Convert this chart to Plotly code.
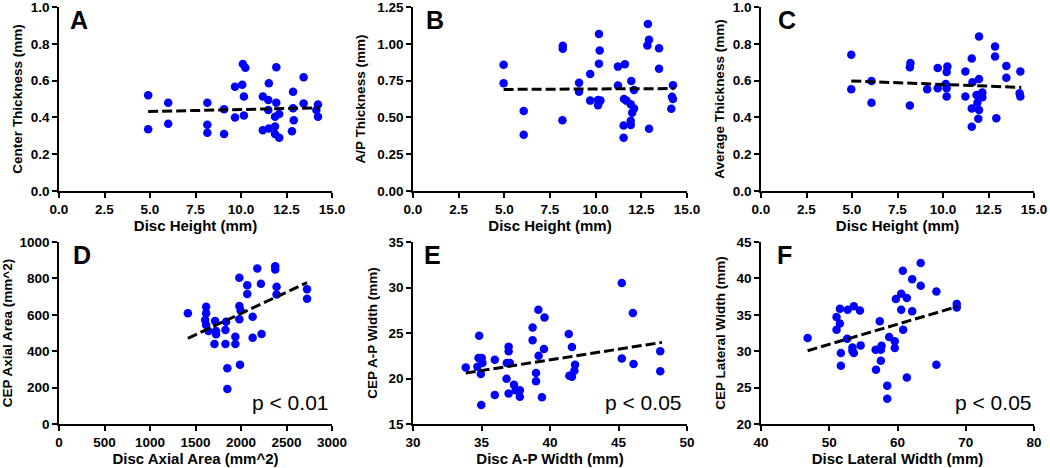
import plotly.graph_objects as go

# ---------------- data ----------------
A_x = [4.9, 4.9, 6.0, 6.0, 8.15, 8.15, 8.15, 9.07, 9.07, 9.67, 9.67, 10.07, 10.16, 10.1, 10.24, 10.16,
       11.2, 11.2, 11.53, 11.5, 11.5, 11.53, 11.87, 11.87, 11.94, 11.94, 11.87, 12.1, 12.1,
       12.86, 12.86, 12.9, 12.8, 13.44, 13.44, 14.23, 14.23, 14.14]
A_y = [0.52, 0.335, 0.48, 0.365, 0.48, 0.36, 0.316, 0.31, 0.444, 0.567, 0.40, 0.577, 0.513, 0.69, 0.67, 0.41,
       0.513, 0.33, 0.585, 0.495, 0.44, 0.34, 0.35, 0.31, 0.673, 0.48, 0.404, 0.418, 0.29,
       0.54, 0.45, 0.385, 0.325, 0.618, 0.476, 0.47, 0.404, 0.44]
A_fit_x = [4.9, 14.3]
A_fit_y = [0.432, 0.452]

B_x = [4.96, 4.96, 6.06, 6.06, 8.2, 8.2, 8.18, 9.09, 9.09, 9.7, 9.7, 10.18, 10.22, 10.18, 10.13, 10.26, 10.13,
       11.22, 11.22, 11.6, 11.55, 11.68, 11.53, 11.53, 11.95, 12.0, 11.92, 12.1, 11.92, 11.92, 12.1,
       12.86, 12.92, 12.83, 12.92, 13.47, 13.47, 14.23, 14.18, 14.23, 14.14]
B_y = [0.857, 0.732, 0.543, 0.382, 0.986, 0.966, 0.48, 0.736, 0.675, 0.795, 0.614, 1.066, 0.955, 0.864, 0.618,
       0.614, 0.582, 0.845, 0.716, 0.861, 0.625, 0.614, 0.445, 0.361, 0.748, 0.532, 0.59, 0.561, 0.477, 0.448,
       0.686, 1.134, 1.027, 0.989, 0.423, 0.97, 0.83, 0.718, 0.64, 0.625, 0.559]
B_fit_x = [4.96, 14.3]
B_fit_y = [0.69, 0.696]

C_x = [4.96, 4.96, 6.07, 6.07, 8.21, 8.18, 8.18, 9.13, 9.71, 9.71, 10.15, 10.2, 10.2, 10.24, 10.2,
       11.23, 11.23, 11.58, 11.62, 11.58, 11.58, 11.98, 11.98, 11.84, 11.89, 11.98, 11.94, 12.16, 12.16,
       12.86, 12.86, 12.93, 13.48, 13.48, 14.25, 14.21, 14.25]
C_y = [0.74, 0.553, 0.598, 0.48, 0.695, 0.673, 0.465, 0.553, 0.669, 0.558, 0.582, 0.558, 0.513, 0.676, 0.647,
       0.649, 0.513, 0.72, 0.591, 0.449, 0.349, 0.84, 0.609, 0.522, 0.48, 0.44, 0.393, 0.535, 0.509,
       0.785, 0.731, 0.395, 0.68, 0.616, 0.649, 0.531, 0.513]
C_fit_x = [4.96, 14.3]
C_fit_y = [0.598, 0.563]

D_x = [1416, 1617, 1617, 1606, 1617, 1642, 1715, 1726, 1726, 1708, 1836, 1829, 1829, 1850, 1850, 1938, 1938,
       1982, 1982, 1996, 1982, 1989, 2069, 2069, 2128, 2128, 2179, 2219, 2226, 2376, 2376, 2391, 2391, 2726, 2726]
D_y = [608, 644, 608, 571, 544, 511, 566, 511, 493, 440, 562, 516, 440, 307, 192, 480, 440,
       803, 648, 624, 575, 325, 763, 714, 589, 474, 854, 770, 495, 867, 849, 754, 712, 741, 688]
D_fit_x = [1416, 2726]
D_fit_y = [471, 777]

E_x = [33.85, 34.83, 34.78, 35.02, 34.7, 35.07, 34.95, 34.98, 35.97, 35.97, 36.98, 36.98, 36.85, 37.07, 36.83,
       36.98, 37.37, 37.5, 37.8, 37.8, 38.73, 38.73, 39.15, 39.6, 39.17, 39.56, 38.98, 38.98, 39.41,
       41.37, 41.6, 41.83, 41.78, 41.41, 41.6, 45.24, 45.24, 46.05, 46.1, 48.05, 48.05]
E_y = [21.2, 24.7, 22.25, 22.25, 21.3, 21.7, 20.5, 17.1, 22.07, 18.2, 23.5, 23.0, 21.7, 21.7, 19.98,
       18.35, 19.3, 18.7, 18.7, 18.0, 25.6, 24.2, 27.56, 26.7, 22.5, 23.24, 20.6, 19.7, 17.93,
       24.9, 23.46, 21.5, 20.86, 20.3, 20.2, 30.5, 22.2, 27.2, 21.6, 23.0, 20.8]
E_fit_x = [33.85, 48.17]
E_fit_y = [20.6, 23.97]

F_x = [46.83, 51.07, 51.07, 51.56, 51.56, 51.7, 51.7, 52.7, 52.63, 53.6, 54.5, 53.4, 53.4, 53.6, 54.6,
       57.4, 56.8, 57.56, 57.66, 57.56, 56.85, 58.5, 58.5, 58.78, 59.6, 59.6, 59.76, 60.54, 60.54, 60.78,
       60.83, 61.37, 61.37, 62.15, 62.15, 63.4, 63.4, 65.7, 65.7, 68.68, 68.68]
F_y = [31.8, 34.7, 32.96, 35.84, 33.8, 29.75, 28.0, 35.7, 31.7, 36.16, 35.6, 30.5, 30.07, 29.75, 30.8,
       34.1, 30.2, 30.2, 30.75, 28.68, 27.46, 25.27, 23.48, 31.95, 31.36, 30.44, 37.17, 37.9, 35.7, 41.06,
       32.96, 37.3, 26.4, 39.9, 35.5, 42.1, 39.0, 38.2, 28.15, 36.5, 36.0]
F_fit_x = [46.83, 68.88]
F_fit_y = [30.07, 36.16]

panel_letters = ["A", "B", "C", "D", "E", "F"]
x_titles = ["Disc Height (mm)", "Disc Height (mm)", "Disc Height (mm)",
            "Disc Axial Area (mm^2)", "Disc A-P Width (mm)", "Disc Lateral Width (mm)"]
y_titles = ["Center Thickness (mm)", "A/P Thickness (mm)", "Average Thickness (mm)",
            "CEP Axial Area (mm^2)", "CEP A-P Width (mm)", "CEP Lateral Width (mm)"]
p_labels = [None, None, None, "p < 0.01", "p < 0.05", "p < 0.05"]

x_ranges = [[0, 15], [0, 15], [0, 15], [0, 3000], [30, 50], [40, 80]]
x_dticks = [2.5, 2.5, 2.5, 500, 5, 10]
x_formats = [".1f", ".1f", ".1f", "d", "d", "d"]
y_ranges = [[0, 1.0], [0, 1.25], [0, 1.0], [0, 1000], [15, 35], [20, 45]]
y_dticks = [0.2, 0.25, 0.2, 200, 5, 5]
y_formats = [".1f", ".2f", ".1f", "d", "d", "d"]

series = [(A_x, A_y, A_fit_x, A_fit_y), (B_x, B_y, B_fit_x, B_fit_y), (C_x, C_y, C_fit_x, C_fit_y),
          (D_x, D_y, D_fit_x, D_fit_y), (E_x, E_y, E_fit_x, E_fit_y), (F_x, F_y, F_fit_x, F_fit_y)]

# ---------------- layout geometry (pixels) ----------------
W, H = 1050, 468
col_px = [(59, 332), (413, 687), (761, 1034)]
row_px = [(7, 191), (242, 424)]
ytitle_standoff = [5, 8, 5, 7, 8, 8]
letter_dx = [9, 11, 15, 12, 9, 14]
p_right = [None, None, None, 0.993, 0.985, 0.996]

FONT = "Liberation Sans, Arial, sans-serif"
fig = go.Figure()
layout = dict(
    width=W, height=H, margin=dict(l=0, r=0, t=0, b=0, autoexpand=False),
    paper_bgcolor="white", plot_bgcolor="white", showlegend=False,
    font=dict(family=FONT, color="black"),
)
annotations = []

for i, (xs, ys, fx, fy) in enumerate(series):
    r, c = divmod(i, 3)
    n = "" if i == 0 else str(i + 1)
    xa, ya = "x" + n, "y" + n
    fig.add_trace(go.Scatter(x=xs, y=ys, mode="markers", xaxis=xa, yaxis=ya,
                             marker=dict(color="#0000FF", size=8.5, line=dict(width=0))))
    fig.add_trace(go.Scatter(x=fx, y=fy, mode="lines", xaxis=xa, yaxis=ya,
                             line=dict(color="black", width=3, dash="10px,4px")))
    x0, x1 = col_px[c]
    y0, y1 = row_px[r]
    common = dict(showgrid=False, zeroline=False, showline=True, linecolor="black", linewidth=1.6,
                  ticks="outside", ticklen=5, tickwidth=1.6, tickcolor="black", automargin=False,
                  ticklabeloverflow="allow",
                  tickfont=dict(family=FONT, size=13.5, weight="bold", color="black"))
    layout["xaxis" + n] = dict(common, domain=[x0 / W, x1 / W], anchor=ya, range=x_ranges[i],
                                tick0=x_ranges[i][0], dtick=x_dticks[i], tickformat=x_formats[i],
                                title=dict(text=x_titles[i], standoff=4,
                                           font=dict(family=FONT, size=15, weight="bold")))
    layout["yaxis" + n] = dict(common, domain=[1 - y1 / H, 1 - y0 / H], anchor=xa, range=y_ranges[i],
                                tick0=y_ranges[i][0], dtick=y_dticks[i], tickformat=y_formats[i],
                                ticklabelstandoff=0,
                                title=dict(text=y_titles[i], standoff=ytitle_standoff[i],
                                           font=dict(family=FONT, size=13.5, weight="bold")))
    # panel letter
    annotations.append(dict(text=panel_letters[i], showarrow=False,
                            xref=xa + " domain", yref=ya + " domain",
                            x=letter_dx[i] / (x1 - x0), y=1 - 13 / (y1 - y0),
                            xanchor="left", yanchor="middle",
                            font=dict(family=FONT, size=25, weight="bold", color="black")))
    if p_labels[i]:
        annotations.append(dict(text=p_labels[i], showarrow=False,
                                xref=xa + " domain", yref=ya + " domain",
                                x=p_right[i], y=(y1 - 402) / (y1 - y0),
                                xanchor="right", yanchor="middle",
                                font=dict(family=FONT, size=21, color="black")))

layout["annotations"] = annotations
fig.update_layout(**layout)
# remove the browser's default 8px body margin so the 1050x468 figure fills the window
fig.write_html("out.html", config={"displayModeBar": False},
               post_script="document.body.style.margin='0px';")
